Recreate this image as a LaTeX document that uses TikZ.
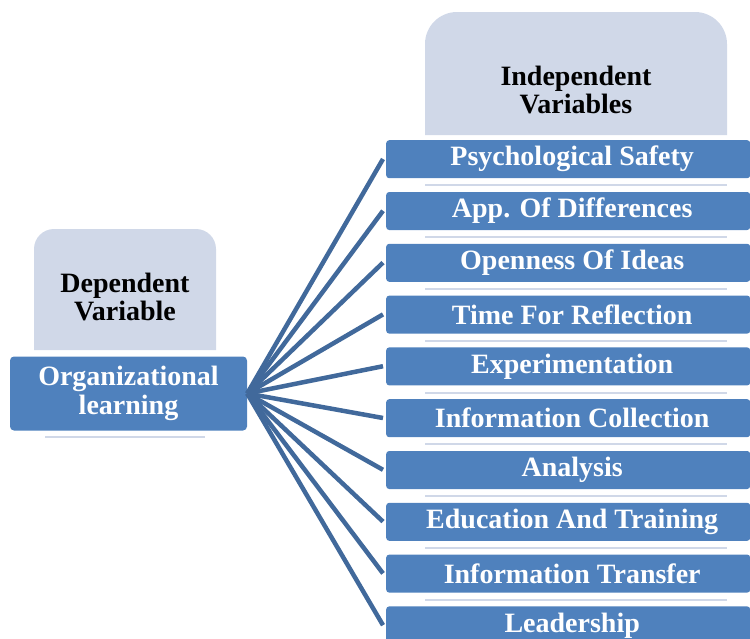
\documentclass[tikz,border=0pt]{standalone}
\usepackage{fontspec}
\setmainfont{Liberation Serif}
\definecolor{barblue}{HTML}{4F81BD}
\definecolor{lightbox}{HTML}{D0D8E8}
\definecolor{linkblue}{HTML}{41699B}
\begin{document}
\begin{tikzpicture}[x=1pt,y=-1pt,
  bar/.style={fill=barblue, rounded corners=3pt, minimum width=364pt, minimum height=38pt,
    inner sep=0pt, text=white, font=\bfseries\fontsize{28}{28}\selectfont, anchor=north west},
  head/.style={align=center, font=\bfseries\fontsize{28}{28.5}\selectfont, text=black},
  link/.style={draw=linkblue, line width=4.5pt},
  sep/.style={draw=lightbox, line width=2pt}]
\useasboundingbox (0,0) rectangle (750,638);
% header boxes
\fill[lightbox] (425,135) [rounded corners=32pt] -- (425,12) -- (727,12) [sharp corners] -- (727,135) -- cycle;
\fill[lightbox] (34,350) [rounded corners=20pt] -- (34,229) -- (216,229) [sharp corners] -- (216,350) -- cycle;
\node[head] (indep) at (576,90) {Independent\\Variables};
\node[head] (dep) at (125,297) {Dependent\\Variable};
% origin box
\node[fill=barblue, rounded corners=4pt, minimum width=237pt, minimum height=74pt, inner sep=0pt,
  align=center, text=white, font=\bfseries\fontsize{28}{28.5}\selectfont] (org) at (128.5,393.5) {Organizational\\learning};
\draw[sep] (45,437) -- (205,437);
% bars
\foreach \t [count=\i from 0] in {Psychological Safety, App. Of Differences, Openness Of Ideas,
  Time For Reflection, Experimentation, Information Collection, Analysis,
  Education And Training, Information Transfer, Leadership}{
  \coordinate (c\i) at (383,{159+51.8*\i});
  \draw[link] (org.east) -- (c\i);
}
\foreach \t [count=\i from 0] in {Psychological Safety, App. Of Differences, Openness Of Ideas,
  Time For Reflection, Experimentation, Information Collection, Analysis,
  Education And Training, Information Transfer, Leadership}{
  \node[bar] (b\i) at (386,{140+51.8*\i}) {\hspace*{8pt}\raisebox{-2pt}{\t}};
}
\foreach \i in {0,...,8}{
  \draw[sep] ([xshift=39pt,yshift=-7pt]b\i.south west) -- ([xshift=-23pt,yshift=-7pt]b\i.south east);
}
\end{tikzpicture}
\end{document}
